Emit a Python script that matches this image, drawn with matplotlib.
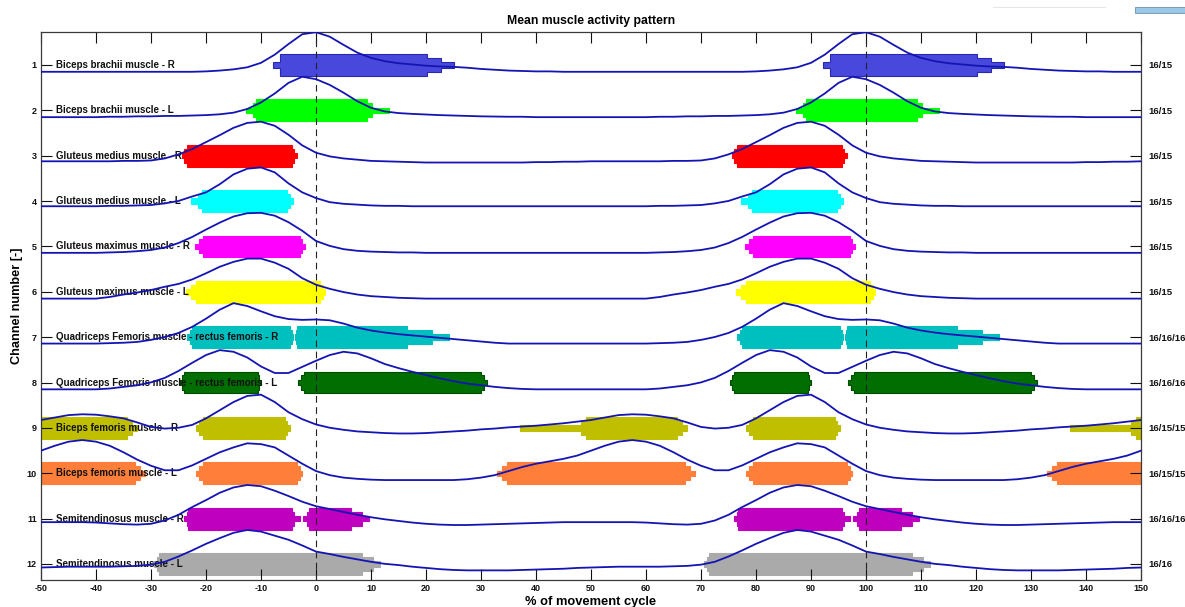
import numpy as np
import matplotlib.pyplot as plt
from matplotlib.patches import Rectangle

plt.rcParams['font.family'] = ['Liberation Sans', 'DejaVu Sans']
plt.rcParams['font.weight'] = 'bold'
plt.rcParams['axes.unicode_minus'] = False

channels = np.arange(1, 13)
muscles = [
    'Biceps brachii muscle - R',
    'Biceps brachii muscle - L',
    'Gluteus medius muscle - R',
    'Gluteus medius muscle - L',
    'Gluteus maximus muscle - R',
    'Gluteus maximus muscle - L',
    'Quadriceps Femoris muscle - rectus femoris - R',
    'Quadriceps Femoris muscle - rectus femoris - L',
    'Biceps femoris muscle - R',
    'Biceps femoris muscle - L',
    'Semitendinosus muscle - R',
    'Semitendinosus muscle - L',
]
trials = ['16/15', '16/15', '16/15', '16/15', '16/15', '16/15',
          '16/16/16', '16/16/16', '16/15/15', '16/15/15', '16/16/16', '16/16']
colors = ['#4848dc', '#00ff00', '#ff0000', '#00ffff', '#ff00ff', '#ffff00',
          '#00bfbf', '#006e00', '#bfbf00', '#ff7f3a', '#bf00bf', '#aaaaaa']
edge_colors = ['#2828b0', None, None, None, None, None,
               None, '#004c00', None, None, None, None]

# one movement cycle, sampled every 2.5 %
cycle_pct = np.arange(0, 100, 2.5)

# normalised mean envelope per channel over one cycle (0 .. 97.5 %)
envelopes = [
    [0.97, 0.86, 0.66, 0.47, 0.34, 0.26, 0.21, 0.18, 0.15, 0.13, 0.12, 0.10, 0.07, 0.05, 0.03, 0.02,
     0.01, 0.01, 0.0, 0.0, 0.0, 0.0, 0.0, 0.0, 0.0, 0.0, 0.0, 0.0, 0.0, 0.0, 0.0, 0.0,
     0.01, 0.03, 0.06, 0.11, 0.22, 0.42, 0.68, 0.92],
    [0.93, 0.79, 0.60, 0.39, 0.23, 0.14, 0.10, 0.08, 0.065, 0.05, 0.04, 0.03, 0.02, 0.015, 0.01, 0.01,
     0.0, 0.0, 0.0, 0.0, 0.0, 0.0, 0.0, 0.0, 0.0, 0.01, 0.01, 0.02, 0.02, 0.03, 0.03, 0.04,
     0.05, 0.07, 0.11, 0.20, 0.36, 0.58, 0.84, 0.99],
    [0.24, 0.15, 0.10, 0.07, 0.04, 0.03, 0.02, 0.01, 0.0, 0.0, 0.0, 0.0, 0.0, 0.0, 0.0, 0.0,
     0.01, 0.01, 0.02, 0.02, 0.03, 0.03, 0.03, 0.03, 0.03, 0.03, 0.04, 0.04, 0.05, 0.10, 0.20, 0.33,
     0.50, 0.67, 0.85, 0.97, 1.0, 0.90, 0.68, 0.42],
    [0.24, 0.14, 0.10, 0.08, 0.06, 0.05, 0.05, 0.04, 0.04, 0.04, 0.04, 0.04, 0.04, 0.04, 0.04, 0.04,
     0.04, 0.04, 0.04, 0.04, 0.04, 0.04, 0.04, 0.04, 0.04, 0.05, 0.05, 0.06, 0.07, 0.11, 0.17, 0.28,
     0.38, 0.58, 0.82, 0.96, 0.99, 0.87, 0.60, 0.38],
    [0.30, 0.18, 0.10, 0.06, 0.04, 0.03, 0.02, 0.02, 0.01, 0.01, 0.01, 0.01, 0.01, 0.01, 0.01, 0.01,
     0.01, 0.01, 0.01, 0.01, 0.01, 0.01, 0.01, 0.01, 0.01, 0.02, 0.03, 0.05, 0.08, 0.14, 0.25, 0.40,
     0.58, 0.75, 0.90, 0.98, 0.99, 0.92, 0.76, 0.55],
    [0.34, 0.24, 0.16, 0.10, 0.06, 0.04, 0.02, 0.01, 0.0, 0.0, 0.0, 0.0, 0.0, 0.0, 0.0, 0.0,
     0.0, 0.0, 0.0, 0.0, 0.0, 0.0, 0.0, 0.0, 0.0, 0.04, 0.10, 0.15, 0.21, 0.29, 0.36, 0.47,
     0.62, 0.78, 0.90, 0.98, 0.98, 0.88, 0.73, 0.50],
    [0.60, 0.58, 0.50, 0.40, 0.33, 0.28, 0.24, 0.21, 0.18, 0.15, 0.12, 0.09, 0.06, 0.03, 0.01, 0.01,
     0.01, 0.01, 0.01, 0.01, 0.01, 0.01, 0.01, 0.01, 0.01, 0.02, 0.03, 0.05, 0.10, 0.17, 0.27, 0.42,
     0.62, 0.84, 1.0, 0.93, 0.80, 0.68, 0.61, 0.59],
    [0.70, 0.84, 0.92, 0.88, 0.76, 0.62, 0.52, 0.43, 0.35, 0.27, 0.20, 0.14, 0.10, 0.06, 0.03, 0.01,
     0.0, 0.0, 0.0, 0.0, 0.0, 0.0, 0.0, 0.0, 0.0, 0.02, 0.06, 0.10, 0.17, 0.28, 0.45, 0.65,
     0.84, 0.96, 0.92, 0.78, 0.56, 0.40, 0.40, 0.55],
    [0.25, 0.17, 0.12, 0.08, 0.06, 0.04, 0.03, 0.03, 0.04, 0.06, 0.08, 0.10, 0.13, 0.15, 0.18, 0.20,
     0.22, 0.25, 0.28, 0.32, 0.36, 0.42, 0.48, 0.50, 0.49, 0.45, 0.40, 0.30, 0.19, 0.15, 0.17, 0.24,
     0.40, 0.60, 0.80, 0.95, 0.98, 0.80, 0.55, 0.38],
    [0.22, 0.12, 0.06, 0.03, 0.01, 0.0, 0.0, 0.0, 0.0, 0.0, 0.0, 0.02, 0.06, 0.12, 0.22, 0.32,
     0.40, 0.46, 0.52, 0.60, 0.72, 0.84, 0.94, 0.98, 0.94, 0.84, 0.68, 0.50, 0.35, 0.24, 0.24, 0.36,
     0.52, 0.68, 0.80, 0.90, 0.88, 0.80, 0.60, 0.40],
    [0.47, 0.40, 0.33, 0.26, 0.20, 0.15, 0.11, 0.07, 0.04, 0.02, 0.01, 0.01, 0.02, 0.03, 0.04, 0.05,
     0.06, 0.07, 0.08, 0.08, 0.08, 0.08, 0.08, 0.08, 0.07, 0.05, 0.03, 0.02, 0.04, 0.12, 0.26, 0.45,
     0.62, 0.80, 0.93, 0.99, 0.96, 0.85, 0.72, 0.58],
    [0.47, 0.41, 0.34, 0.28, 0.22, 0.17, 0.14, 0.10, 0.07, 0.04, 0.02, 0.01, 0.01, 0.01, 0.01, 0.02,
     0.03, 0.04, 0.05, 0.07, 0.08, 0.09, 0.10, 0.10, 0.10, 0.10, 0.11, 0.12, 0.15, 0.22, 0.35, 0.50,
     0.66, 0.80, 0.93, 1.0, 0.96, 0.86, 0.76, 0.62],
]

# activation bursts in % of cycle:
# (onset thin, onset mid, onset full, offset full, offset mid, offset thin)
bursts = [
    [(-7.8, -6.5, -6.5, 20.2, 22.7, 25.0)],
    [(-12.8, -11.5, -10.9, 9.3, 10.2, 13.2)],
    [(-24.3, -24.0, -23.5, -4.4, -4.0, -3.5)],
    [(-22.8, -21.5, -20.8, -5.3, -4.8, -4.2)],
    [(-22.0, -21.2, -20.6, -3.0, -2.5, -2.0)],
    [(-23.6, -22.7, -21.8, 0.7, 1.2, 1.7)],
    [(-23.5, -23.0, -22.5, -4.7, -4.4, -4.1), (-3.8, -3.6, -3.4, 16.6, 21.0, 24.1)],
    [(-24.8, -24.4, -24.0, -10.6, -10.3, -10.0), (-3.3, -2.7, -2.2, 30.0, 30.5, 31.1)],
    [(-21.8, -21.2, -20.6, -5.6, -5.2, -4.8), (37.0, 48.1, 49.0, 65.6, 66.5, 67.4)],
    [(-21.8, -21.2, -20.6, -3.4, -3.0, -2.5), (32.9, 33.8, 34.7, 67.0, 68.0, 68.9)],
    [(-24.0, -23.5, -23.2, -4.3, -4.0, -2.9), (-2.3, -1.7, -1.3, 6.3, 8.4, 9.7)],
    [(-29.5, -29.0, -28.5, 8.3, 10.3, 11.7)],
]

cycle_shifts = [-100, 0, 100]
half_h = (0.24, 0.155, 0.06)   # full / mid / thin half height of a burst bar
env_base, env_scale = 0.15, 0.9

fig = plt.figure(figsize=(11.85, 6.07), dpi=100)
ax = fig.add_axes([0.0346, 0.0445, 0.9283, 0.9028])


def burst_outline(b, c):
    b0, b1, b2, b3, b4, b5 = b
    f, m, t = half_h
    xs = [b0, b1, b1, b2, b2, b3, b3, b4, b4, b5,
          b5, b4, b4, b3, b3, b2, b2, b1, b1, b0]
    ys = [c - t, c - t, c - m, c - m, c - f, c - f, c - m, c - m, c - t, c - t,
          c + t, c + t, c + m, c + m, c + f, c + f, c + m, c + m, c + t, c + t]
    return np.array(xs), np.array(ys)


for i, ch in enumerate(channels):
    # burst bars, repeated for each displayed cycle
    for b in bursts[i]:
        xs, ys = burst_outline(b, ch)
        for s in cycle_shifts:
            ax.fill(xs + s, ys, facecolor=colors[i],
                    edgecolor=edge_colors[i] or colors[i], lw=0.8, zorder=1)

    ax.text(-47.3, ch, muscles[i], fontsize=7.0, fontweight='bold',
            va='center', ha='left', color='#111111', zorder=2)

    # mean envelope, repeated over three cycles
    v = np.asarray(envelopes[i])
    x_full = np.concatenate([cycle_pct + s for s in cycle_shifts] + [[200.0]])
    v_full = np.concatenate([v, v, v, v[:1]])
    ax.plot(x_full, ch + env_base - env_scale * v_full,
            color='#1414b4', lw=1.3, zorder=3)

for xv in (0, 100):
    ax.axvline(xv, color='#222222', lw=0.8, ls=(0, (6, 4)), zorder=2.5)

ax.set_xlim(-50, 150)
ax.set_ylim(12.353, 0.2725)
ax.set_xticks(np.arange(-50, 151, 10))
ax.set_yticks(channels)
ax.set_yticklabels([str(c) for c in channels])
ax.tick_params(axis='both', direction='in', length=8, width=0.8,
               labelsize=6.5, pad=3, colors='#111111')
ax.tick_params(axis='x', top=True, pad=3)
for sp in ax.spines.values():
    sp.set_color('#3a3a3a')
    sp.set_linewidth(0.9)

ax2 = ax.twinx()
ax2.set_ylim(ax.get_ylim())
ax2.set_yticks(channels)
ax2.set_yticklabels(trials)
ax2.tick_params(axis='y', direction='in', length=8, width=0.8,
                labelsize=6.8, pad=5, colors='#111111')
for sp in ax2.spines.values():
    sp.set_visible(False)

ax.set_title('Mean muscle activity pattern', fontsize=8.8, fontweight='bold', pad=6)
ax.set_ylabel('Channel number [-]', fontsize=9.2, fontweight='bold', labelpad=3)
# x label sits right at the lower figure edge
fig.text(591 / 1185, 1 - 601.5 / 607, '% of movement cycle', fontsize=9.3,
         fontweight='bold', ha='center', va='center')

# small window-bar remnants in the upper right corner
fig.patches.append(Rectangle((1135 / 1185, 1 - 13 / 607), 50 / 1185, 6 / 607,
                             transform=fig.transFigure, facecolor='#9cc8e8',
                             edgecolor='#6a90b0', lw=0.6))
fig.lines.append(plt.Line2D([993 / 1185, 1105 / 1185], [1 - 7 / 607, 1 - 7 / 607],
                            transform=fig.transFigure, color='#e6e6e6', lw=0.8))

fig.savefig('out.png', dpi=100)
